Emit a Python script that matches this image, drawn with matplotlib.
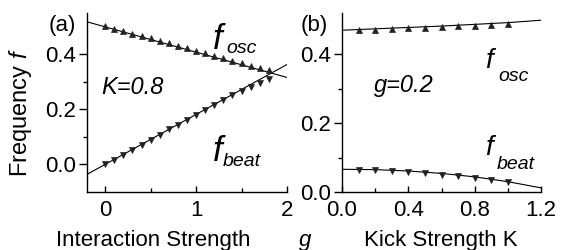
import matplotlib
matplotlib.use("Agg")
import matplotlib.pyplot as plt
from matplotlib.ticker import FixedLocator

plt.rcParams['font.family'] = ['Liberation Sans', 'DejaVu Sans']
plt.rcParams['mathtext.fontset'] = 'custom'
plt.rcParams['mathtext.rm'] = 'Liberation Sans'
plt.rcParams['mathtext.it'] = 'Liberation Sans:italic'

# panel (a): K = 0.8, frequency vs interaction strength g
g_pts = [0.0, 0.1, 0.2, 0.3, 0.4, 0.5, 0.6, 0.7, 0.8, 0.9,
         1.0, 1.1, 1.2, 1.3, 1.4, 1.5, 1.6, 1.7, 1.8]
f_osc_a = [0.501, 0.492, 0.484, 0.475, 0.466, 0.458, 0.449, 0.440, 0.431, 0.422,
           0.413, 0.404, 0.395, 0.386, 0.377, 0.368, 0.359, 0.350, 0.343]
f_beat_a = [0.000, 0.018, 0.036, 0.054, 0.072, 0.090, 0.108, 0.127, 0.145, 0.163,
            0.181, 0.199, 0.216, 0.234, 0.251, 0.268, 0.283, 0.296, 0.309]
g_line = [-0.2, 2.0]
f_osc_a_line = [0.518, 0.316]
f_beat_a_line = [-0.036, 0.363]

# panel (b): g = 0.2, frequency vs kick strength K
k_pts = [0.1, 0.2, 0.3, 0.4, 0.5, 0.6, 0.7, 0.8, 0.9, 1.0]
f_osc_b = [0.471, 0.472, 0.473, 0.475, 0.477, 0.479, 0.481, 0.483, 0.485, 0.487]
f_beat_b = [0.064, 0.063, 0.060, 0.057, 0.054, 0.050, 0.046, 0.041, 0.036, 0.030]
k_line = [0.0, 0.2, 0.4, 0.6, 0.8, 1.0, 1.2]
f_osc_b_line = [0.470, 0.474, 0.478, 0.482, 0.487, 0.492, 0.499]
f_beat_b_line = [0.066, 0.065, 0.061, 0.054, 0.044, 0.030, 0.012]

W, H = 561, 250
fig = plt.figure(figsize=(W / 100, H / 100), dpi=100)
ax_a = fig.add_axes([87 / W, 1 - 192 / H, 200 / W, 179 / H])
ax_b = fig.add_axes([342 / W, 1 - 192 / H, 199 / W, 179 / H])

fs = 16
mk = dict(linestyle='none', color='#222222', markersize=5, markeredgewidth=0.5)
for ax in (ax_a, ax_b):
    for s in ('top', 'right'):
        ax.spines[s].set_visible(False)
    for s in ('left', 'bottom'):
        ax.spines[s].set_linewidth(1.0)
    ax.tick_params(axis='y', which='major', direction='out', length=6, width=1, labelsize=fs, pad=2)
    ax.tick_params(axis='y', which='minor', direction='out', length=3, width=1)
    ax.tick_params(axis='x', which='major', direction='in', length=4, width=1, labelsize=fs, pad=6)
    ax.tick_params(axis='x', which='minor', direction='in', length=3, width=1)

# panel (a)
ax_a.plot(g_line, f_osc_a_line, color='black', lw=0.8)
ax_a.plot(g_line, f_beat_a_line, color='black', lw=0.8)
ax_a.plot(g_pts, f_osc_a, marker='^', **mk)
ax_a.plot(g_pts, f_beat_a, marker='v', **mk)
ax_a.set_xlim(-0.2, 2.0)
ax_a.set_ylim(-0.1, 0.55)
ax_a.set_xticks([0, 1, 2])
ax_a.set_xticklabels(['0', '1', '2'])
ax_a.xaxis.set_minor_locator(FixedLocator([0.5, 1.5]))
ax_a.set_yticks([0.0, 0.2, 0.4])
ax_a.set_yticklabels(['0.0', '0.2', '0.4'])
ax_a.yaxis.set_minor_locator(FixedLocator([0.1, 0.3]))
ax_a.text(-0.04, 0.255, 'K=0.8', fontsize=17, style='italic')
ax_a.text(1.18, 0.42, 'f', fontsize=25, style='italic')
ax_a.text(1.33, 0.404, 'osc', fontsize=14, style='italic')
ax_a.text(1.18, 0.011, 'f', fontsize=25, style='italic')
ax_a.text(1.29, -0.004, 'beat', fontsize=14, style='italic')

# panel (b)
ax_b.plot(k_line, f_osc_b_line, color='black', lw=0.8)
ax_b.plot(k_line, f_beat_b_line, color='black', lw=0.8)
ax_b.plot(k_pts, f_osc_b, marker='^', **mk)
ax_b.plot(k_pts, f_beat_b, marker='v', **mk)
ax_b.set_xlim(0.0, 1.2)
ax_b.set_ylim(0.0, 0.52)
ax_b.set_xticks([0.0, 0.4, 0.8, 1.2])
ax_b.set_xticklabels(['0.0', '0.4', '0.8', '1.2'])
ax_b.xaxis.set_minor_locator(FixedLocator([0.2, 0.6, 1.0]))
ax_b.set_yticks([0.0, 0.2, 0.4])
ax_b.set_yticklabels(['0.0', '0.2', '0.4'])
ax_b.yaxis.set_minor_locator(FixedLocator([0.1, 0.3]))
ax_b.text(0.19, 0.29, 'g=0.2', fontsize=17, style='italic')
ax_b.text(0.86, 0.36, 'f', fontsize=20, style='italic')
ax_b.text(0.94, 0.322, 'osc', fontsize=14, style='italic')
ax_b.text(0.86, 0.107, 'f', fontsize=20, style='italic')
ax_b.text(0.93, 0.067, 'beat', fontsize=14, style='italic')

# labels
fig.text(49 / W, 1 - 31 / H, '(a)', fontsize=fs)
fig.text(301 / W, 1 - 31 / H, '(b)', fontsize=fs)
fig.text(20 / W, 1 - 113 / H, 'Frequency $f$', fontsize=17, rotation=90,
         ha='center', va='center')
fig.text(153 / W, 1 - 246 / H, 'Interaction Strength', fontsize=fs, ha='center', va='baseline')
fig.text(305 / W, 1 - 246 / H, 'g', fontsize=fs, style='italic', ha='center', va='baseline')
fig.text(441 / W, 1 - 246 / H, 'Kick Strength K', fontsize=fs, ha='center', va='baseline')

fig.savefig('out.png', dpi=100)
plt.close(fig)
